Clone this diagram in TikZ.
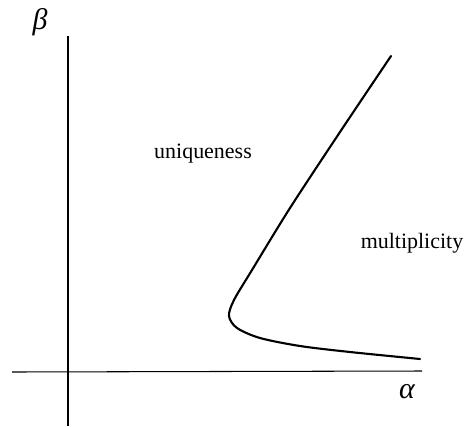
\documentclass[tikz,border=0pt]{standalone}
\usepackage{fontspec}
\setmainfont{Liberation Serif}
\begin{document}
\begin{tikzpicture}[x=0.02cm,y=-0.02cm,
  axis/.style={line width=0.6pt,black},
  branch/.style={line width=1.2pt,black,line cap=round,line join=round},
  lbl/.style={font=\fontsize{12.5}{14}\selectfont,inner sep=0pt},
  greek/.style={font=\fontsize{17}{19}\selectfont\itshape,inner sep=0pt}]
\useasboundingbox (0,0) rectangle (469,426);
\coordinate (yt) at (68,36);
\coordinate (yb) at (68,426);
\coordinate (xl) at (12,372);
\coordinate (xr) at (422,371);
\draw[axis] (yt) -- (yb);
\draw[axis] (xl) -- (xr);
\node[greek] (beta) at (40,22) {β};
\node[greek] (alpha) at (407,392) {α};
\node[lbl] (uniq) at (203,154) {uniqueness};
\node[lbl] (mult) at (412,243) {multiplicity};
\draw[branch] plot[smooth,tension=0.5] coordinates {(391,56) (340,132) (290,208) (252,270) (234,300) (229,316) (237,328) (260,338) (300,346) (350,352) (420,359)};
\end{tikzpicture}
\end{document}
